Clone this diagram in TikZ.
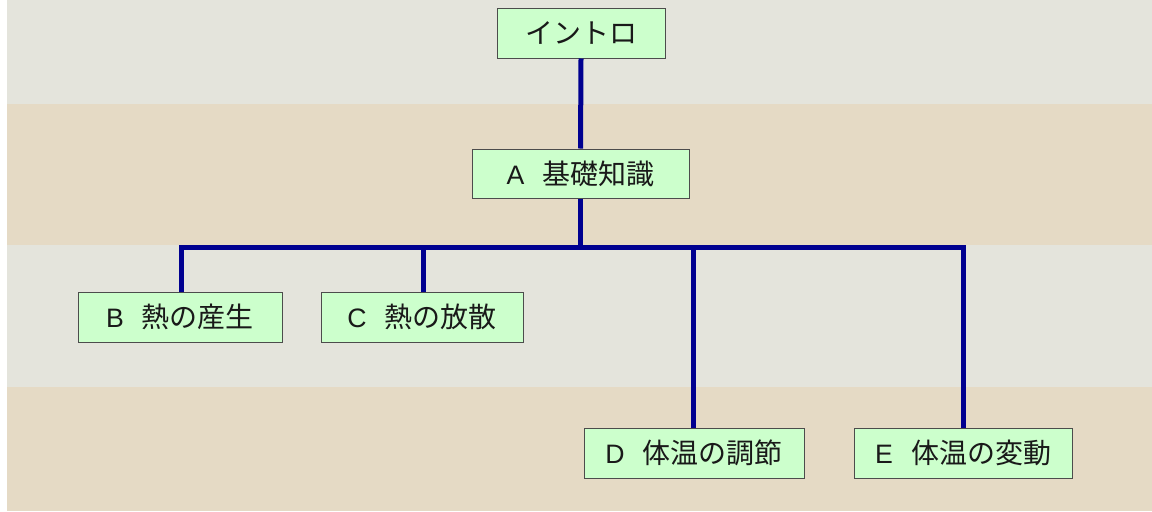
\documentclass[tikz,border=0pt]{standalone}
\usepackage{fontspec}
\setmainfont{Noto Sans CJK JP}
\newfontfamily\jpfont{Noto Sans CJK JP}
\newfontfamily\latfont{Liberation Sans}
\begin{document}
\begin{tikzpicture}[x=0.75pt,y=-0.75pt,
  box/.style={draw=black!70, line width=0.75pt, fill=boxgreen, inner sep=0pt,
    minimum height=37.5pt, font=\jpfont\fontsize{21pt}{25pt}\selectfont, text=black!90},
  conn/.style={draw=linkblue, line width=3.75pt, line join=miter, line cap=butt}]
\definecolor{boxgreen}{HTML}{CCFFCC}
\definecolor{linkblue}{HTML}{000090}
\definecolor{bandgray}{HTML}{E4E4DC}
\definecolor{bandtan}{HTML}{E5DAC5}
\useasboundingbox (0,0) rectangle (1152,511);
\fill[white] (0,0) rectangle (1152,511);
\fill[bandgray] (7,0) rectangle (1152,104);
\fill[bandtan] (7,104) rectangle (1152,245);
\fill[bandgray] (7,245) rectangle (1152,387);
\fill[bandtan] (7,387) rectangle (1152,511);
\newcommand{\lat}[1]{{\latfont\fontsize{20pt}{22pt}\selectfont #1}\hspace{0.65em}}
\node[box, minimum width=126pt] (intro) at (581,33) {イントロ};
\node[box, minimum width=162.75pt, minimum height=36.75pt] (A) at (580.5,173.5) {\lat{A}基礎知識};
\node[box, minimum width=153pt] (B) at (180,317) {\lat{B}熱の産生};
\node[box, minimum width=151.5pt] (C) at (422,317) {\lat{C}熱の放散};
\node[box, minimum width=165pt] (D) at (694,453) {\lat{D}体温の調節};
\node[box, minimum width=163.5pt] (E) at (963,453) {\lat{E}体温の変動};
\coordinate (busy) at (0,247);
\coordinate (bB) at (181,292);
\coordinate (bC) at (423,292);
\coordinate (bD) at (693,428);
\coordinate (bE) at (963,428);
\draw[conn] (intro.south) -- (A.north);
\draw[conn] (A.south) -- (A.south |- busy);
\draw[conn] (bB) -- (bB |- busy) -- (bE |- busy) -- (bE);
\draw[conn] (bC) -- (bC |- busy);
\draw[conn] (bD) -- (bD |- busy);
\end{tikzpicture}
\end{document}
